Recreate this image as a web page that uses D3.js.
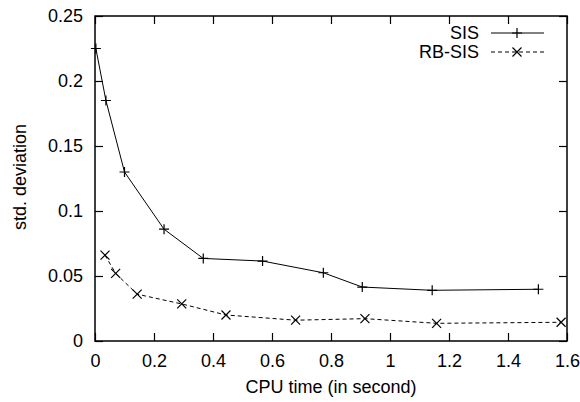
<!DOCTYPE html>
<html>
<head>
<meta charset="utf-8">
<script src="https://cdn.jsdelivr.net/npm/d3@7"></script>
<style>
body { margin: 0; background: #fff; }
text { font-family: "Liberation Sans", Arial, sans-serif; fill: #000; }
</style>
</head>
<body>
<svg width="580" height="402"></svg>
<script>
"use strict";

var sisTime = [0.003, 0.037, 0.10, 0.234, 0.367, 0.568, 0.774, 0.906, 1.143, 1.503];
var sisDev = [0.225, 0.185, 0.130, 0.086, 0.0635, 0.0615, 0.0525, 0.0415, 0.039, 0.0398];
var rbTime = [0.034, 0.070, 0.143, 0.294, 0.444, 0.680, 0.915, 1.158, 1.58];
var rbDev = [0.066, 0.052, 0.036, 0.0285, 0.020, 0.016, 0.0172, 0.0136, 0.0144];
var xTicks = [0, 0.2, 0.4, 0.6, 0.8, 1, 1.2, 1.4, 1.6];
var yTicks = [0, 0.05, 0.1, 0.15, 0.2, 0.25];
var seriesNames = ["SIS", "RB-SIS"];

var svg = d3.select('svg');
var plotLeft = 95, plotRight = 567, plotTop = 16, plotBottom = 341;

var x = d3.scaleLinear().domain([0, 1.6]).range([plotLeft, plotRight]);
var y = d3.scaleLinear().domain([0, 0.25]).range([plotBottom, plotTop]);

function fmt(d) { return String(d); }

// ticks on all four sides, pointing inward
svg.append('g').attr('transform', 'translate(0,' + plotBottom + ')')
	.call(d3.axisBottom(x).tickValues(xTicks).tickSizeInner(-8).tickSizeOuter(0).tickPadding(13).tickFormat(fmt));
svg.append('g').attr('transform', 'translate(0,' + plotTop + ')')
	.call(d3.axisTop(x).tickValues(xTicks).tickSizeInner(-8).tickSizeOuter(0).tickFormat(""));
svg.append('g').attr('transform', 'translate(' + plotLeft + ',0)')
	.call(d3.axisLeft(y).tickValues(yTicks).tickSizeInner(-8).tickSizeOuter(0).tickPadding(12).tickFormat(fmt));
svg.append('g').attr('transform', 'translate(' + plotRight + ',0)')
	.call(d3.axisRight(y).tickValues(yTicks).tickSizeInner(-8).tickSizeOuter(0).tickFormat(""));

svg.selectAll('.domain').remove();
svg.selectAll('.tick line').attr('stroke', '#000').attr('stroke-width', 1.2);
svg.selectAll('.tick text').attr('font-size', 18).attr('fill', '#000')
	.style('font-family', '"Liberation Sans", Arial, sans-serif');

svg.append('rect')
	.attr('x', plotLeft).attr('y', plotTop)
	.attr('width', plotRight - plotLeft).attr('height', plotBottom - plotTop)
	.attr('fill', 'none').attr('stroke', '#000').attr('stroke-width', 1.5);

function toPoints(xs, ys) {
	return xs.map(function(d, i) { return [d, ys[i]]; });
}

var line = d3.line()
	.x(function(d) { return x(d[0]); })
	.y(function(d) { return y(d[1]); });

var sisData = toPoints(sisTime, sisDev);
var rbData = toPoints(rbTime, rbDev);

function plus(cx, cy, r) {
	return "M" + (cx - r) + "," + cy + "H" + (cx + r) + "M" + cx + "," + (cy - r) + "V" + (cy + r);
}
function cross(cx, cy, r) {
	return "M" + (cx - r) + "," + (cy - r) + "L" + (cx + r) + "," + (cy + r) +
		"M" + (cx - r) + "," + (cy + r) + "L" + (cx + r) + "," + (cy - r);
}

svg.append('path').datum(sisData)
	.attr('d', line).attr('fill', 'none').attr('stroke', '#000').attr('stroke-width', 1);
svg.append('path').datum(rbData)
	.attr('d', line).attr('fill', 'none').attr('stroke', '#000').attr('stroke-width', 1)
	.attr('stroke-dasharray', '4,3');

svg.selectAll('path.sis').data(sisData).enter().append('path')
	.attr('class', 'sis')
	.attr('d', function(d) { return plus(x(d[0]), y(d[1]), 5); })
	.attr('stroke', '#000').attr('stroke-width', 1.2);
svg.selectAll('path.rb').data(rbData).enter().append('path')
	.attr('class', 'rb')
	.attr('d', function(d) { return cross(x(d[0]), y(d[1]), 4.5); })
	.attr('stroke', '#000').attr('stroke-width', 1.2);

// legend
var legY = [33, 52];
seriesNames.forEach(function(name, i) {
	svg.append('text').attr('x', 479).attr('y', legY[i] + 6)
		.attr('text-anchor', 'end').attr('font-size', 18).text(name);
	svg.append('line').attr('x1', 491).attr('x2', 544)
		.attr('y1', legY[i]).attr('y2', legY[i])
		.attr('stroke', '#000').attr('stroke-width', 1)
		.attr('stroke-dasharray', i === 0 ? null : '4,3');
	svg.append('path')
		.attr('d', i === 0 ? plus(517, legY[i], 5) : cross(517, legY[i], 4.5))
		.attr('stroke', '#000').attr('stroke-width', 1.2);
});

// axis titles
svg.append('text').attr('x', 331).attr('y', 393)
	.attr('text-anchor', 'middle').attr('font-size', 18).text('CPU time (in second)');
svg.append('text').attr('transform', 'translate(26,177) rotate(-90)')
	.attr('text-anchor', 'middle').attr('font-size', 18).text('std. deviation');

// caption, cut off at the bottom edge as in the reference
svg.append('text').attr('x', 153).attr('y', 415)
	.attr('text-anchor', 'middle').attr('font-size', 18).text('(a)');
</script>
</body>
</html>
